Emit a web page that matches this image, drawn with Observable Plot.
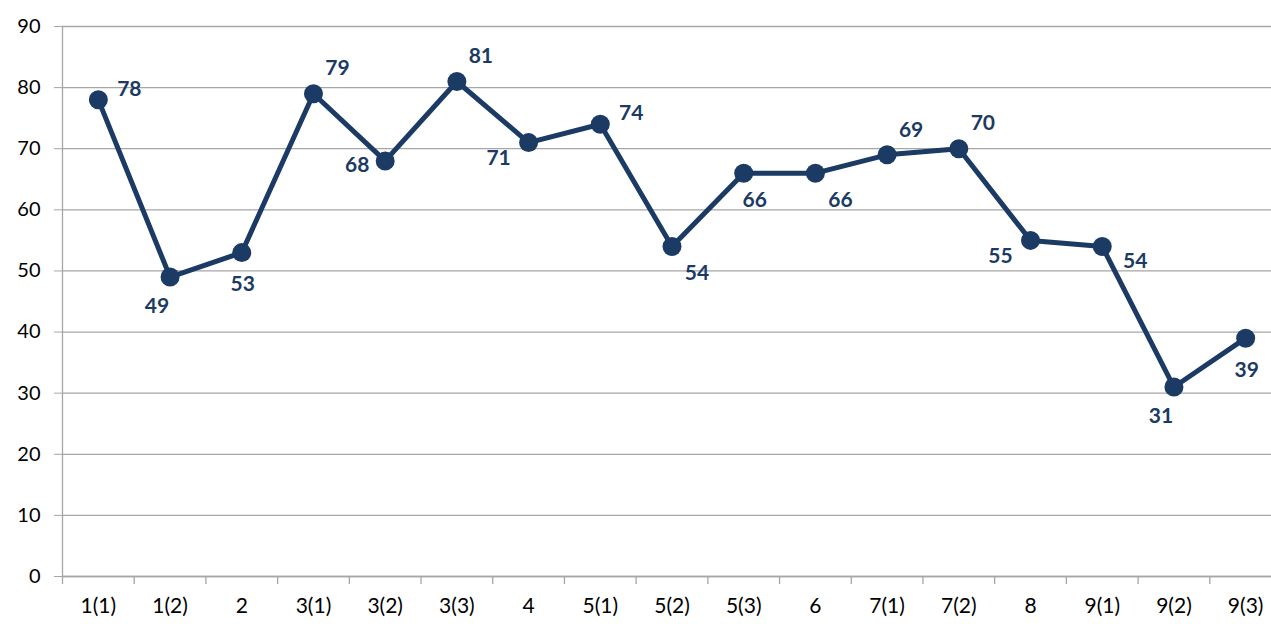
<!DOCTYPE html>
<html>
<head>
<meta charset="utf-8">
<script src="https://cdn.jsdelivr.net/npm/d3@7"></script>
<script src="https://cdn.jsdelivr.net/npm/@observablehq/plot@0.6"></script>
<style>
  html, body { margin: 0; padding: 0; background: #fff; }
  svg { display: block; }
</style>
</head>
<body>
<div id="chart"></div>
<script>
const categories = ["1(1)","1(2)","2","3(1)","3(2)","3(3)","4","5(1)","5(2)","5(3)","6","7(1)","7(2)","8","9(1)","9(2)","9(3)"];
const values = [78, 49, 53, 79, 68, 81, 71, 74, 54, 66, 66, 69, 70, 55, 54, 31, 39];
const labelPlacement = ["E","SW","S","NE","W","NE","WSW","E","SE","SSE","SE","NE","NE","WSW","ESE","SW","S"];
const yTicks = [0,10,20,30,40,50,60,70,80,90];

const offsets = {
  NE: [24, -25], E: [31, -11], ESE: [33, 15], SE: [25, 27], SSE: [11, 27],
  S: [1, 32], SW: [-13, 29], WSW: [-30, 16], W: [-28, 4]
};
const data = categories.map((c, i) => ({cat: c, v: values[i], place: labelPlacement[i]}));

const W = 1271, H = 624;
const left = 62, right = 1281; // the original plot area runs past the picture's right edge
const step = (right - left) / categories.length;
const navy = "#1b3a64", grey = "#a6a6a6";
const font = "Lato, 'Open Sans', sans-serif";

const labelMarks = Object.entries(offsets).map(([k, [dx, dy]]) =>
  Plot.text(data.filter(d => d.place === k), {x: "cat", y: "v", text: d => String(d.v), dx, dy,
    fill: navy, fontWeight: "bold", fontSize: 21})
);

const chart = Plot.plot({
  width: W, height: H,
  marginLeft: left, marginRight: 0, marginTop: 26, marginBottom: 48,
  style: {fontFamily: font, background: "#fff"},
  x: {type: "point", domain: categories, range: [left, right], padding: 0.5, round: false},
  y: {domain: [0, 90], ticks: yTicks},
  marks: [
    Plot.gridY(yTicks, {stroke: grey, strokeOpacity: 1, strokeWidth: 1.3}),
    Plot.axisY(yTicks, {tickSize: 8, tickPadding: 14, stroke: grey, fill: "#000", fontSize: 20, label: null}),
    Plot.axisX(categories, {text: null, tickSize: 8, dx: -step / 2, stroke: grey, strokeWidth: 1.3, label: null}),
    Plot.axisX(categories, {tickSize: 0, tickPadding: 22, fill: "#000", fontSize: 21, label: null}),
    Plot.ruleY([0], {stroke: grey, strokeWidth: 1.3}),
    Plot.ruleX([categories[0]], {dx: -step / 2, y1: 0, y2: 90, stroke: grey, strokeWidth: 1.3}),
    Plot.line(data, {x: "cat", y: "v", stroke: navy, strokeWidth: 5}),
    Plot.dot(data, {x: "cat", y: "v", r: 9.5, fill: navy, stroke: "none"}),
    ...labelMarks
  ]
});
document.getElementById("chart").appendChild(chart);
</script>
</body>
</html>
